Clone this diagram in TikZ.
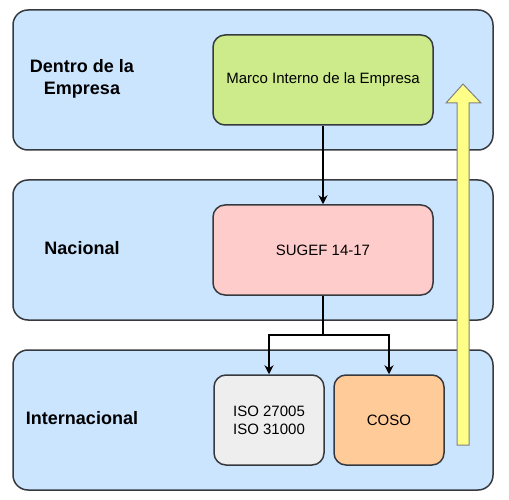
\documentclass[tikz,border=0pt]{standalone}
\usepackage{fontspec}
\setmainfont{Liberation Sans}
\usetikzlibrary{arrows.meta}

\definecolor{panelblue}{HTML}{CCE5FF}
\definecolor{darkline}{HTML}{36393D}
\definecolor{marcogreen}{HTML}{CDEB8B}
\definecolor{sugefpink}{HTML}{FFCCCC}
\definecolor{isogray}{HTML}{EEEEEE}
\definecolor{cosoorange}{HTML}{FFCC99}
\definecolor{upyellow}{HTML}{FFFF88}

\begin{document}
\begin{tikzpicture}[x=1pt,y=-1pt]
	\useasboundingbox (0,0) rectangle (509,500);
		\begin{scope}[every node/.style={draw=darkline,line width=1.5pt,rounded corners=15pt,fill=panelblue,minimum width=480pt,minimum height=140pt}]
			\node (dentro) at (253,80) {};
			\node (nacional) at (253,250) {};
			\node (internacional) at (253,420) {};
		\end{scope}
		\begin{scope}[every node/.style={font=\fontsize{18}{22}\selectfont\bfseries,align=center}]
			\node (dentrolbl) at (82,79) {Dentro de la\\Empresa};
			\node (nacionallbl) at (82,248) {Nacional};
			\node (internacionallbl) at (82,418) {Internacional};
		\end{scope}
		\begin{scope}[every node/.style={draw=darkline,line width=1.5pt,rounded corners=12pt,font=\fontsize{15}{18}\selectfont,align=center}]
			\node[fill=marcogreen,minimum width=220pt,minimum height=90pt] (marco) at (323,80) {Marco Interno de la Empresa};
			\node[fill=sugefpink,minimum width=220pt,minimum height=90pt] (sugef) at (323,250) {SUGEF 14-17};
			\node[fill=isogray,minimum width=110pt,minimum height=90pt] (iso) at (269,420) {ISO 27005\\ISO 31000};
			\node[fill=cosoorange,minimum width=110pt,minimum height=90pt] (coso) at (389,420) {COSO};
		\end{scope}
	\begin{scope}[>={Stealth[length=9pt,width=9pt]},line width=1.5pt]
			\draw [->] (marco) -- (sugef);
			\draw [->] (sugef.south) -- ++(0,39) -| (iso.north);
			\draw [->] (sugef.south) -- ++(0,39) -| (coso.north);
		\end{scope}
		% flecha amarilla hacia arriba
		\draw[fill=upyellow,draw=gray,line width=1pt] (457,445) -- (457,103) -- (446,103) -- (463,84) -- (481,103) -- (469,103) -- (469,445) -- cycle;
	\end{tikzpicture}
\end{document}
